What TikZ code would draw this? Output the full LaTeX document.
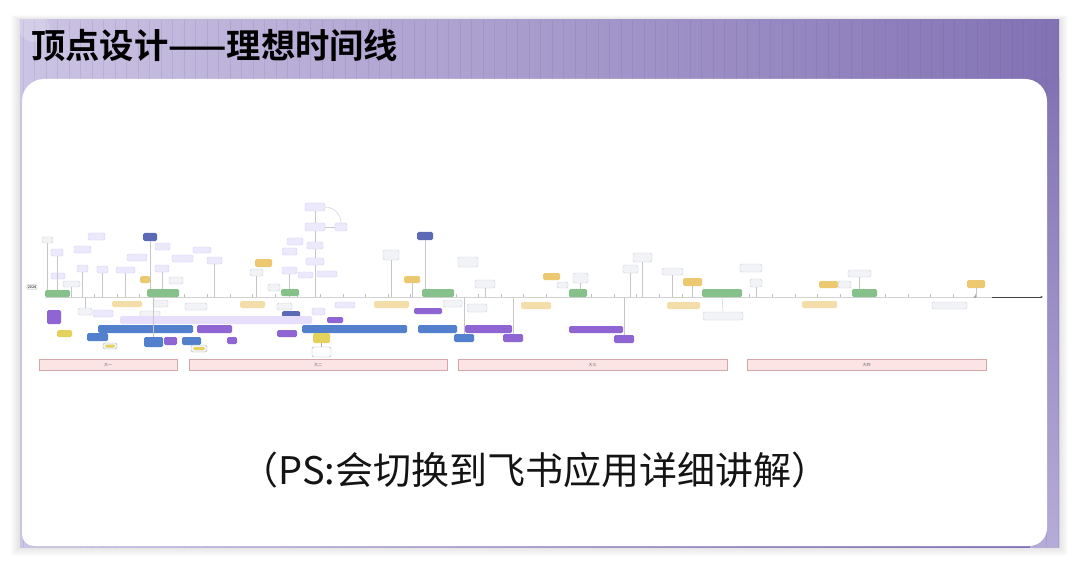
\documentclass[tikz,border=0pt]{standalone}
\usepackage{fontspec}
\setmainfont{Noto Sans CJK SC}[BoldFont={Noto Sans CJK SC Bold}]
\usetikzlibrary{arrows.meta}

\definecolor{pnlL}{RGB}{204,196,228}
\definecolor{pnlR}{RGB}{130,114,180}
\definecolor{pnlB}{RGB}{182,172,216}
\definecolor{lavF}{RGB}{237,233,252}
\definecolor{lavD}{RGB}{214,206,245}
\definecolor{gryF}{RGB}{242,243,246}
\definecolor{gryD}{RGB}{205,208,216}
\definecolor{grnF}{RGB}{134,193,140}
\definecolor{ylwF}{RGB}{236,201,112}
\definecolor{lylF}{RGB}{243,222,170}
\definecolor{olvF}{RGB}{229,210,92}
\definecolor{bluF}{RGB}{82,128,205}
\definecolor{dblF}{RGB}{92,106,182}
\definecolor{purF}{RGB}{143,100,211}
\definecolor{lpuF}{RGB}{231,222,251}
\definecolor{pnkF}{RGB}{253,228,228}
\definecolor{pnkD}{RGB}{212,168,168}

\begin{document}
\begin{tikzpicture}[x=1pt, y=-1pt, >=Stealth,
  tlspan/.style n args={4}{minimum width={#3-#1}, minimum height={#4-#2},
    inner sep=0pt, outer sep=0pt, rounded corners=1.5pt},
  lavbox/.style={fill=lavF, draw=lavD, line width=0.4pt},
  grybox/.style={fill=gryF, draw=gryD, line width=0.4pt},
  grnbox/.style={fill=grnF},
  ylwbox/.style={fill=ylwF},
  lylbox/.style={fill=lylF},
  olvbox/.style={fill=olvF},
  blubox/.style={fill=bluF},
  dblbox/.style={fill=dblF},
  purbox/.style={fill=purF},
  lpubox/.style={fill=lpuF},
  stem/.style={draw=gray!45, line width=0.4pt},
  tick/.style={draw=gray!50, line width=0.4pt},
  yearbar/.style={fill=pnkF, draw=pnkD, line width=0.5pt, inner sep=0pt,
    font=\fontsize{4}{4}\selectfont, text=black!60}]

  % --- 1. 背景 (影・紫パネル・方眼) ---
  \useasboundingbox (0,0) rectangle (1080,567);
  \fill[white] (0,0) rectangle (1080,567);
  \foreach \s in {1,...,9}
    \fill[black, opacity=0.011] ({20-\s},{20-0.5*\s}) rectangle ({1059+\s},{547+\s});
  \shade[left color=pnlL, right color=pnlR] (20,20) rectangle (1059,547);
  \shade[top color=pnlR, bottom color=pnlB] (1030,79) rectangle (1059,547);
  \begin{scope}
    \clip (20,20) rectangle (1059,547);
    \draw[pnlR!70!black, opacity=0.12, line width=0.5pt, step=11.5] (20,20) grid (1059,547);
    \fill[white, opacity=0.18] (34,27) circle (15);
  \end{scope}

  % --- 2. 白いカード ---
  \fill[white] (22,300) [rounded corners=22] -- (22,79) -- (1047,79)
    [rounded corners=18] -- (1047,546) [rounded corners=12] -- (22,546) -- cycle;

  % --- 3. タイトル ---
  \node[anchor=west, inner sep=0pt, font=\bfseries\fontsize{34.3}{40}\selectfont] (title)
    at (31,45.5) {顶点设计——理想时间线};

  % --- 4. 時間軸 ---
  \coordinate (ax) at (0,297);
  \coordinate (ax0) at (45,297);
  \coordinate (ax1) at (992,297);
  \coordinate (ax2) at (1043,297);

  % 上の箱
  \foreach \xa/\ya/\xb/\yb [count=\i] in {51/249/63/256, 88/233/105/240, 74/246/91/253,
      77/265/88/272, 51/273/65/279, 97/266/108/273, 116/267/135/273, 127/254/147/261,
      155/243/170/250, 155/265/169/272, 172/255/193/262, 193/247/211/253, 207/257/222/264,
      287/238/303/245, 282/248/297/255, 282/267/297/274, 305/203/325/211, 305/223/325/231,
      335/223/347/231, 307/242/323/249, 306/258/324/265, 298/272/313/278, 317/271/337/277,
      335/302/355/308, 312/308/325/315, 93/310/113/317}
    \node[lavbox, tlspan={\xa}{\ya}{\xb}{\yb}] (lav\i) at ({(\xa+\xb)/2},{(\ya+\yb)/2}) {};
  \foreach \xa/\ya/\xb/\yb [count=\i] in {42/237/53/243, 78/308/92/315, 140/311/160/317,
      185/303/207/310, 153/300/168/307, 63/281/80/287, 169/277/183/284, 250/269/263/276,
      268/284/280/291, 277/303/292/310, 383/250/399/260, 458/257/478/267, 475/280/495/288,
      443/300/462/307, 467/304/487/312, 557/282/568/288, 573/273/588/283, 623/265/638/273,
      633/253/652/262, 662/268/683/275, 703/312/743/320, 740/264/762/272, 750/279/762/287,
      838/281/851/288, 848/270/871/277, 932/302/967/309}
    \node[grybox, tlspan={\xa}{\ya}{\xb}{\yb}] (gry\i) at ({(\xa+\xb)/2},{(\ya+\yb)/2}) {};
  \foreach \xa/\ya/\xb/\yb [count=\i] in {143/233/157/241, 417/232/433/240, 282/311/300/317}
    \node[dblbox, tlspan={\xa}{\ya}{\xb}{\yb}] (dbl\i) at ({(\xa+\xb)/2},{(\ya+\yb)/2}) {};
  \foreach \xa/\ya/\xb/\yb [count=\i] in {140/276/150/283, 255/259/272/267, 404/276/420/283,
      543/273/560/280, 683/278/702/286, 819/281/838/288, 967/280/985/288}
    \node[ylwbox, tlspan={\xa}{\ya}{\xb}{\yb}] (ylw\i) at ({(\xa+\xb)/2},{(\ya+\yb)/2}) {};

  % 軸の上下への線
  \foreach \n in {gry1, lav1, lav4, lav6, lav7, dbl1, lav10, lav13, gry8, lav16, lav21,
      gry11, dbl2, ylw3, gry13, gry17, gry18, gry19, gry20, ylw5, gry23, gry25, ylw7, gry6}
    \draw[stem] (\n.south) -- (\n.south |- ax);
  \draw[stem] (lav17.south) -- (lav18.north);
  \draw[stem] (lav18.south) -- (lav20.north);
  \draw[stem] (lav20.south) -- (lav21.north);
  \draw[stem] (lav18.east) -- (lav19.west);
  \draw[stem] (lav17.east) to[out=0, in=90] (lav19.north);

  % 軸本体と目盛り
  \draw[gray!35, line width=0.6pt] (ax0) -- (ax1);
  \foreach \k in {0,...,41}
    \draw[tick] ({49+22.6*\k},297) -- ++(0,-3);
  \draw[->, black!75, line width=0.5pt, arrows={-Stealth[length=2.5pt, width=2pt]}] (ax1) -- (ax2);
  \fill[gray!70] (975,297) circle (1.3);

  % 軸上・軸下の箱
  \foreach \xa/\ya/\xb/\yb [count=\i] in {45/290/70/297, 147/289/179/297, 281/289/299/296,
      422/289/454/297, 569/289/587/297, 702/289/742/297, 852/289/877/297}
    \node[grnbox, tlspan={\xa}{\ya}{\xb}{\yb}] (grn\i) at ({(\xa+\xb)/2},{(\ya+\yb)/2}) {};
  \foreach \xa/\ya/\xb/\yb [count=\i] in {112/301/142/307, 240/301/265/308, 374/301/409/308,
      521/302/551/309, 667/302/700/309, 802/301/837/308}
    \node[lylbox, tlspan={\xa}{\ya}{\xb}{\yb}] (lyl\i) at ({(\xa+\xb)/2},{(\ya+\yb)/2}) {};
  \node[lpubox, tlspan={120}{316}{312}{324}] (lpu1) at (216,320) {};
  \foreach \xa/\ya/\xb/\yb [count=\i] in {98/325/193/333, 302/325/407/333, 87/333/108/341,
      144/337/163/347, 182/337/201/345, 418/325/457/333, 454/334/474/342}
    \node[blubox, tlspan={\xa}{\ya}{\xb}{\yb}] (blu\i) at ({(\xa+\xb)/2},{(\ya+\yb)/2}) {};
  \foreach \xa/\ya/\xb/\yb [count=\i] in {47/310/61/324, 197/325/232/333, 164/337/177/345,
      227/337/237/344, 277/330/297/337, 327/317/343/323, 414/308/442/314, 465/325/512/333,
      503/334/523/342, 569/326/623/333, 614/335/634/343}
    \node[purbox, tlspan={\xa}{\ya}{\xb}{\yb}] (pur\i) at ({(\xa+\xb)/2},{(\ya+\yb)/2}) {};
  \node[olvbox, tlspan={57}{330}{72}{337}] (olv1) at (64.5,333.5) {};
  \node[olvbox, tlspan={313}{333}{330}{343}] (olv2) at (321.5,338) {};

  % 軸から下の線
  \foreach \n in {gry2, blu4, blu7, pur9, pur11}
    \draw[stem] (\n.north |- ax) -- (\n.north);
  \draw[stem] (grn6.south) -- (gry21.north);

  % 付箋
  \node[grybox, draw=gray!60, tlspan={103}{343}{117}{349}] (tag1) at (110,346) {};
  \node[olvbox, tlspan={105}{344.5}{115}{347.5}] (tag1in) at (110,346) {};
  \node[grybox, draw=gray!60, tlspan={191}{345}{207}{352}] (tag2) at (199,348.5) {};
  \node[olvbox, tlspan={193}{347}{205}{350}] (tag2in) at (199,348.5) {};
  \node[grybox, draw=gray!60, fill=white, tlspan={312}{347}{331}{357}] (tag3) at (321.5,352) {};
  \draw[stem, gray!60] (tag3.north) -- (olv2.south);

  % 2024
  \node[draw=gray!70, fill=white, inner sep=0.8pt, rounded corners=0.8pt,
    font=\bfseries\fontsize{3.6}{4}\selectfont, text=black!70] (yr) at (32,287) {2024};

  % 学年の帯
  \node[yearbar, minimum width=138, minimum height=11] (yr1) at (108,364.5) {大一};
  \node[yearbar, minimum width=258, minimum height=11] (yr2) at (318,364.5) {大二};
  \node[yearbar, minimum width=269, minimum height=11] (yr3) at (592.5,364.5) {大三};
  \node[yearbar, minimum width=239, minimum height=11] (yr4) at (866.5,364.5) {大四};

  % --- 5. 注記 ---
  \node[font=\fontsize{38}{46}\selectfont, text=black!92] (note) at (535,470)
    {（PS:会切换到飞书应用详细讲解）};

\end{tikzpicture}
\end{document}
